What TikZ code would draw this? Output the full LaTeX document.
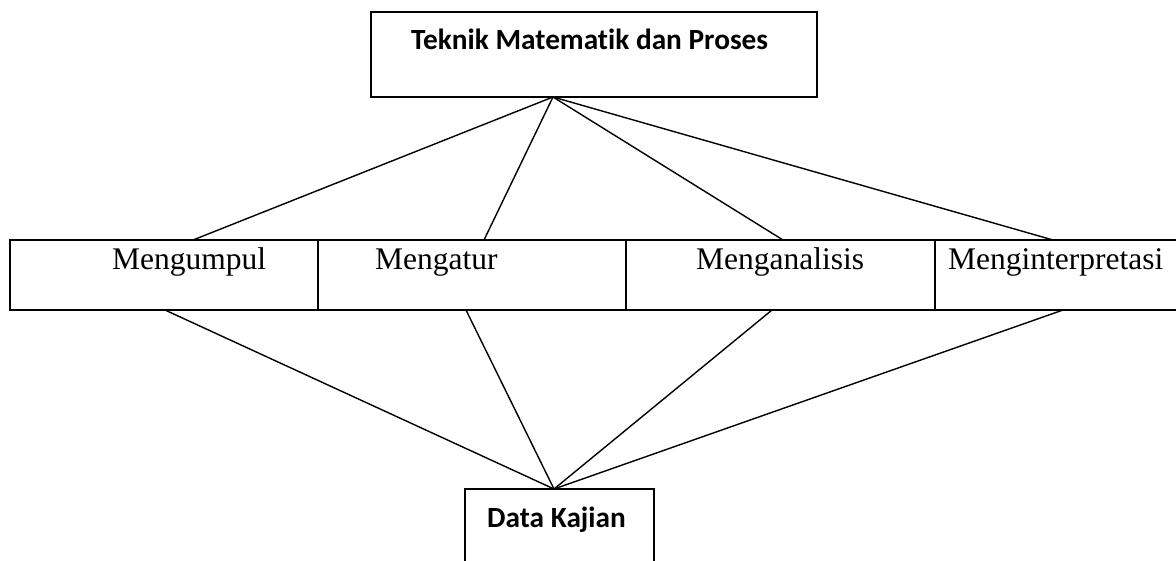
\documentclass[tikz,border=0pt]{standalone}
\usepackage{fontspec}
\setmainfont{Liberation Serif}
\newfontfamily\headfont[Ligatures=NoCommon]{Carlito}
\begin{document}
\begin{tikzpicture}[x=1pt,y=-1pt,
  box/.style={draw, line width=1.6pt, inner sep=0pt, outer sep=0pt},
  link/.style={line width=1.4pt},
  celltext/.style={anchor=base west, inner sep=0pt, font=\fontsize{31.5}{36}\selectfont},
  headtext/.style={anchor=base west, inner sep=0pt, font=\headfont\bfseries\fontsize{29.3}{34}\selectfont}]
\useasboundingbox (0,0) rectangle (1176,561);

% top box
\node[box, minimum width=446pt, minimum height=85pt] (top) at (594,54.5) {};
\node[headtext] (toptext) at (411,50) {Teknik Matematik dan Proses};

% row of four cells
\node[box, minimum width=308pt, minimum height=70pt] (c1) at (164,275) {};
\node[box, minimum width=308pt, minimum height=70pt] (c2) at (472,275) {};
\node[box, minimum width=309pt, minimum height=70pt] (c3) at (780.5,275) {};
\node[box, minimum width=250pt, minimum height=70pt] (c4) at (1060,275) {};
\node[celltext] (t1) at (112,270) {Mengumpul};
\node[celltext] (t2) at (375,270) {Mengatur};
\node[celltext] (t3) at (696,270) {Menganalisis};
\node[celltext] (t4) at (948,270) {Menginterpretasi};

% bottom box
\node[box, minimum width=189pt, minimum height=81pt] (bot) at (559.5,529.5) {};
\node[headtext] (bottext) at (487,527) {Data Kajian};

% connector end points
\coordinate (tapex) at (553,97);
\coordinate (bapex) at (554,489);
\coordinate (u1) at (193,240);
\coordinate (u2) at (484,240);
\coordinate (u3) at (783,240);
\coordinate (u4) at (1053,240);
\coordinate (l1) at (165,310);
\coordinate (l2) at (466,310);
\coordinate (l3) at (772,310);
\coordinate (l4) at (1063,310);

\foreach \i in {1,2,3,4} {
  \draw[link] (tapex) -- (u\i);
  \draw[link] (l\i) -- (bapex);
}
\end{tikzpicture}
\end{document}
